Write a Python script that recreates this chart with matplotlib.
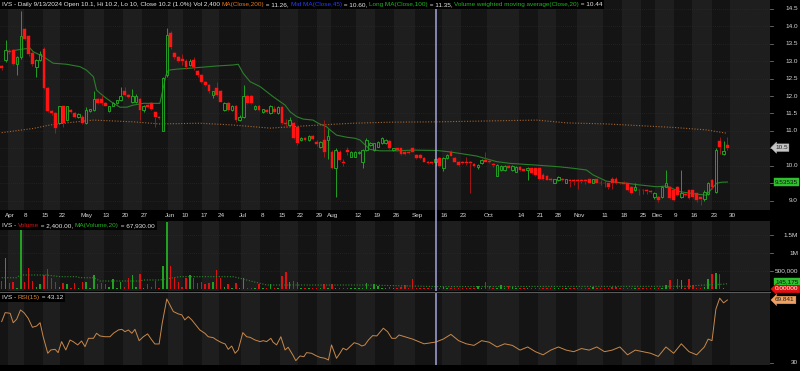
import matplotlib
matplotlib.use('Agg')
import matplotlib.pyplot as plt
import matplotlib.transforms as mtransforms
from matplotlib.patches import Rectangle
from matplotlib.lines import Line2D
from matplotlib.offsetbox import TextArea, HPacker, AnchoredOffsetbox

# ---------------- data (one candle per trading slot, Mar 28 .. Dec 27 2024) ----------------
opens = [12.86,13.03,13.30,13.32,12.92,13.11,13.91,13.72,13.22,12.82,13.03,13.36,12.22,11.58,11.51,11.22,11.70,11.31,11.60,11.51,
         11.41,11.41,11.22,11.58,11.60,11.91,11.91,11.79,11.58,11.72,11.81,11.89,12.13,12.03,11.84,11.84,11.91,11.60,11.75,11.79,
         11.53,11.41,11.01,12.60,13.80,13.22,13.11,13.05,13.01,12.89,13.03,12.73,12.60,12.41,12.32,12.03,12.22,12.13,11.60,11.79,
         11.60,11.72,11.31,11.41,12.00,12.00,11.62,11.72,11.53,11.60,11.51,11.64,11.50,11.69,11.24,11.18,11.22,11.10,10.74,10.80,
         10.74,10.86,10.67,10.55,10.74,10.74,10.41,9.93,10.41,10.12,10.45,10.26,10.26,10.36,10.12,10.45,10.60,10.45,10.55,10.64,
         10.64,10.72,10.45,10.50,10.50,10.41,10.41,10.50,10.31,10.31,10.22,10.12,10.10,10.10,10.22,9.95,10.22,10.41,10.22,10.12,
         10.12,10.12,10.12,10.05,9.98,10.07,10.17,10.15,10.05,9.72,9.88,9.88,10.00,9.88,9.83,9.98,9.90,9.88,9.93,9.93,
         9.93,9.74,9.71,9.62,9.52,9.59,9.62,9.52,9.60,9.59,9.59,9.60,9.60,9.61,9.52,9.61,9.52,9.52,9.50,9.61,
         9.62,9.52,9.52,9.50,9.40,9.30,9.32,9.32,9.31,9.28,9.11,9.11,9.11,9.40,9.40,9.30,9.40,9.11,9.20,9.30,
         9.30,9.21,9.10,9.05,9.20,9.58,9.25,10.72,10.35,10.60]
highs = [12.90,13.61,13.35,13.35,13.15,14.45,13.95,13.75,13.25,13.05,13.30,13.40,12.25,11.60,11.55,11.72,11.72,11.72,11.62,11.55,
         11.52,11.45,11.68,11.64,12.13,11.95,12.03,11.82,11.72,11.84,11.90,12.27,12.27,12.05,12.20,12.05,11.95,11.75,11.78,11.82,
         11.55,11.44,12.55,13.95,13.85,13.25,13.14,13.20,13.05,13.05,13.12,12.75,12.63,12.44,12.34,12.15,12.41,12.16,11.83,11.82,
         11.74,11.74,11.45,12.32,12.03,12.03,11.75,11.74,11.64,11.62,11.74,11.70,11.72,11.72,11.35,11.40,11.25,11.13,10.82,10.83,
         10.88,10.88,10.75,10.72,11.31,11.05,10.45,10.50,10.44,10.20,10.55,10.43,10.43,10.42,10.48,10.80,10.67,10.66,10.71,10.83,
         10.76,10.74,10.52,10.52,10.52,10.43,10.43,10.52,10.33,10.33,10.24,10.14,10.12,10.20,10.24,10.24,10.33,10.45,10.24,10.14,
         10.14,10.26,10.15,10.08,10.04,10.19,10.41,10.17,10.07,10.04,10.02,10.02,10.02,10.02,10.00,10.00,9.92,9.97,9.95,9.95,
         9.95,9.78,9.73,9.64,9.63,9.71,9.64,9.63,9.62,9.61,9.61,9.62,9.62,9.63,9.63,9.63,9.58,9.60,9.52,9.69,
         9.69,9.54,9.56,9.52,9.42,9.50,9.35,9.34,9.33,9.30,9.25,9.13,9.42,9.88,9.42,9.32,9.42,9.88,9.22,9.32,
         9.32,9.23,9.12,9.30,9.55,9.62,10.50,10.82,10.72,10.82]
lows = [12.75,12.98,13.20,12.90,12.60,13.05,13.60,13.15,12.85,12.55,13.00,12.20,11.55,11.45,10.93,11.20,11.12,11.28,11.50,11.38,
        11.38,11.20,11.20,11.55,11.58,11.78,11.75,11.70,11.55,11.70,11.78,11.85,12.00,11.95,11.80,11.80,11.31,11.55,11.65,11.60,
        11.12,11.33,11.00,12.55,13.35,13.05,12.98,12.90,12.78,12.85,12.75,12.55,12.38,12.30,12.10,11.95,12.00,11.82,11.57,11.57,
        11.57,11.25,11.28,11.38,11.78,11.78,11.60,11.57,11.50,11.52,11.48,11.52,11.48,11.20,11.10,11.15,10.77,10.60,10.70,10.70,
        10.72,10.74,10.58,10.52,10.26,10.20,9.90,9.11,10.15,10.00,10.30,10.24,10.24,10.33,9.95,10.43,10.58,10.43,10.53,10.62,
        10.62,10.48,10.43,10.43,10.31,10.31,10.34,10.39,10.20,10.20,10.10,10.05,10.04,10.00,9.98,9.85,10.20,10.27,10.10,10.00,
        10.05,10.02,9.21,9.97,9.90,10.05,10.10,10.08,9.98,9.70,9.86,9.86,9.93,9.86,9.81,9.86,9.84,9.60,9.77,9.72,
        9.60,9.60,9.58,9.56,9.50,9.57,9.56,9.50,9.40,9.45,9.35,9.50,9.48,9.50,9.50,9.50,9.45,9.40,9.35,9.35,
        9.48,9.48,9.47,9.28,9.20,9.28,9.16,9.18,9.20,9.22,9.05,8.95,9.09,9.38,9.05,9.00,9.14,9.08,9.13,9.05,
        9.09,8.95,8.88,9.00,9.15,9.35,9.22,10.35,10.30,10.45]
closes = [12.80,13.32,13.25,12.92,13.11,13.72,13.63,13.20,12.92,13.03,13.20,12.22,11.58,11.50,11.07,11.70,11.22,11.70,11.53,11.41,
          11.49,11.22,11.60,11.62,11.91,11.81,11.79,11.72,11.70,11.81,11.89,12.00,12.03,11.97,12.00,12.00,11.60,11.72,11.68,11.62,
          11.41,11.36,12.51,13.75,13.41,13.11,13.01,13.00,12.82,13.01,12.84,12.60,12.41,12.32,12.13,12.13,12.03,11.84,11.81,11.60,
          11.72,11.31,11.41,12.00,11.81,11.81,11.72,11.60,11.62,11.55,11.72,11.55,11.69,11.22,11.20,11.31,10.80,10.64,10.79,10.74,
          10.86,10.76,10.63,10.69,10.40,10.84,9.93,10.45,10.17,10.09,10.40,10.41,10.41,10.40,10.45,10.74,10.65,10.64,10.69,10.79,
          10.74,10.50,10.50,10.45,10.33,10.33,10.36,10.41,10.22,10.22,10.12,10.07,10.07,10.20,10.00,10.22,10.31,10.29,10.12,10.02,
          10.07,10.07,10.07,10.00,10.02,10.17,10.12,10.10,10.02,10.02,10.00,10.00,9.95,10.00,9.98,9.88,9.86,9.95,9.79,9.74,
          9.62,9.62,9.60,9.58,9.61,9.69,9.58,9.61,9.57,9.56,9.56,9.57,9.56,9.52,9.61,9.52,9.50,9.50,9.40,9.52,
          9.50,9.50,9.49,9.30,9.23,9.40,9.30,9.30,9.29,9.25,9.23,9.02,9.40,9.50,9.07,9.02,9.16,9.23,9.15,9.07,
          9.11,9.02,9.05,9.25,9.50,9.40,10.45,10.55,10.42,10.52]
volumes = [222e3,870e3,158e3,186e3,40e3,1640e3,205e3,575e3,222e3,50e3,130e3,389e3,555e3,296e3,205e3,60e3,158e3,130e3,40e3,158e3,
           40e3,186e3,205e3,40e3,389e3,130e3,158e3,130e3,50e3,278e3,40e3,205e3,60e3,296e3,389e3,50e3,417e3,40e3,130e3,50e3,
           222e3,40e3,639e3,1850e3,648e3,296e3,205e3,50e3,296e3,389e3,296e3,158e3,205e3,130e3,158e3,205e3,528e3,296e3,50e3,130e3,
           40e3,158e3,40e3,296e3,40e3,40e3,40e3,130e3,30e3,30e3,130e3,30e3,40e3,361e3,472e3,205e3,222e3,186e3,30e3,30e3,
           30e3,30e3,30e3,30e3,130e3,30e3,130e3,30e3,30e3,30e3,30e3,30e3,30e3,30e3,30e3,158e3,30e3,130e3,80e3,20e3,
           20e3,60e3,20e3,20e3,60e3,100e3,20e3,278e3,20e3,20e3,20e3,20e3,20e3,2.4e3,20e3,60e3,20e3,20e3,20e3,20e3,
           20e3,40e3,20e3,20e3,70e3,20e3,186e3,70e3,20e3,20e3,110e3,20e3,90e3,60e3,20e3,20e3,20e3,20e3,20e3,20e3,
           20e3,20e3,20e3,20e3,20e3,20e3,20e3,20e3,20e3,20e3,20e3,20e3,20e3,20e3,60e3,30e3,20e3,20e3,20e3,60e3,
           60e3,20e3,20e3,20e3,20e3,20e3,20e3,20e3,20e3,20e3,20e3,20e3,20e3,100e3,250e3,20e3,278e3,250e3,20e3,278e3,
           100e3,20e3,20e3,60e3,270e3,417e3,436e3,417e3,30e3,0]

# indicator lines (slot, value)
vwma_slot = [3,5.2,7.4,8.2,10.8,13.4,16.9,20.4,22.1,23.9,24.7,25.6,27.3,29.1,30.8,32.6,34.3,36.9,39.5,41.2,42.8,43.4,45.6,48.2,51.6,56,60.3,
             61.6,62.9,64.7,67.3,70.7,72.5,73.8,75.1,76.8,78.5,81.1,82.4,84.6,85.5,87.2,89.8,92,93.3,95.9,98.5,102.9,107.2,113.3,116.7,
             120.2,123.7,128.9,132.4,139.3,145.4,148.8,152.3,154,157.5,162.8,166.3,170.6,173.2,176.6,180.9,183.5,186.2,187.5,189]
vwma_val = [13.30,13.34,13.37,13.27,13.13,12.94,12.91,12.84,12.74,12.55,12.17,12.08,11.93,11.79,11.68,11.68,11.74,11.79,11.79,11.79,12.60,12.74,
            12.77,12.79,12.82,12.86,12.89,12.91,12.65,12.41,12.27,11.98,11.84,11.74,11.55,11.41,11.34,11.31,11.22,11.12,11.03,10.88,10.82,
            10.79,10.74,10.47,10.43,10.43,10.45,10.44,10.40,10.34,10.28,10.12,10.07,10.02,9.97,9.93,9.88,9.74,9.56,9.50,9.45,9.40,9.42,
            9.26,9.19,9.16,9.50,9.53,9.535]
ma200_slot = [0,8.2,12.6,16.9,23.9,34.3,41.2,51.6,60.2,69.9,78.5,82.9,91.5,101.1,113.3,139.3,147.1,157.5,174.9,183.5,189]
ma200_val = [10.95,11.07,11.17,11.23,11.31,11.26,11.20,11.22,11.17,11.08,11.14,11.17,11.22,11.25,11.26,11.31,11.23,11.20,11.10,11.03,10.93]
volma_slot = [0,3.9,4.8,11.7,15.2,19.5,20.4,23.9,25.6,36,36.9,41.2,46.4,60.3,62.1,69,95,113,179.3,181.1,187.2,189]
volma_val = [314e3,314e3,389e3,389e3,342e3,342e3,314e3,314e3,222e3,222e3,250e3,250e3,342e3,342e3,296e3,111e3,111e3,67.9e3,75e3,100e3,130e3,145e3]
rsi_slot = [0,0.9,2.2,3,3.9,4.9,5.8,6.9,8,9.1,10,10.8,12,12.8,13.9,14.7,15.6,16.7,17.8,18.6,19.8,20.8,21.7,22.6,23.9,24.7,25.6,26.9,
            28.2,29.1,30.4,31.3,32.1,33,33.9,34.7,35.8,36.9,38,39.1,39.9,41,41.8,43,43.8,44.7,46,46.9,47.7,48.6,49.5,50.8,51.6,52.9,53.8,
            55.1,56,57.3,58.2,59,59.9,60.8,61.6,62.8,63.8,64.7,66,67.3,68.1,69,70.1,70.7,71.6,72.7,73.8,74.6,75.8,76.6,77.7,78.7,79.4,
            80.7,82,82.9,84.2,85.1,85.9,86.4,87.2,88.1,88.9,89.8,90.7,91.8,92.9,93.8,94.6,95.5,96.6,97.7,99.4,100.5,101.6,102.6,103.5,
            107,110,113,115,117,119,121,123,125,127,129,131,133,135,137,139,141,143,145,147,149,151,153,155,157,159,161,163,165,167,
            169,171,173,175,177,179,181,183,184,185,186,187,188,189]
rsi_val = [56.1,61.8,61.4,55.4,57.6,63.5,61.8,58.2,52.5,53.3,55.4,46.5,36.0,38.1,38.5,36.4,43.4,38.1,44.4,43.4,41.3,43.8,40.2,45.5,45.5,
           48.7,47.0,46.5,46.5,48.7,50.8,51.2,49.7,50.8,48.7,51.2,44.0,46.5,48.3,44.4,41.9,41.9,55.0,70.5,66.7,62.5,61.0,60.4,57.2,59.3,
           57.2,53.3,50.8,48.7,46.5,45.9,44.4,42.7,41.9,38.5,40.6,36.0,38.1,49.1,46.5,46.1,44.4,43.4,44.0,43.4,45.5,43.0,41.3,46.5,38.1,
           39.8,35.0,31.3,34.3,33.8,36.4,36.0,34.3,33.4,32.8,31.7,41.3,38.1,32.8,36.0,39.2,38.1,40.2,42.7,41.9,40.6,41.3,44.4,47.2,47.0,
           51.9,49.7,45.5,45.5,47.6,45,42,43.1,45,48,44,42,41,44,43,40,42,41,38,40,37,35,38,40,38,37,39,38,40,37,38,40,35,38,37,
           36,34,40,36,42,37,35,40,45,44,64,71,68,69.84]

# right-axis price labels (9.5 and 10.5 are hidden behind the value tags in the reference)
price_grid = [9.0, 9.5, 10.0, 10.5, 11.0, 11.5, 12.0, 12.5, 13.0, 13.5, 14.0, 14.5]
price_labels = [9.0, 10.0, 11.0, 11.5, 12.0, 12.5, 13.0, 13.5, 14.0, 14.5]
vol_ticks = [500000, 1000000, 1500000]
vol_tick_labels = ['500,000', '1M', '1.5M']
date_labels = ['Apr','8','15','22','May','13','20','27','Jun','10','17','24','Jul','8','15','22','29','Aug','12','19','26',
               'Sep','16','23','Oct','14','21','28','Nov','11','18','25','Dec','9','16','23','30']
date_slots = [2.2,6.3,11.3,15.7,22.0,27.2,32.1,37.1,43.8,47.7,52.7,57.1,62.8,67.8,73.0,77.7,82.6,86.3,92.8,97.7,102.7,
              108.2,115.2,120.1,126.9,135.2,140.2,144.9,150.3,157.1,162.1,167.0,170.7,175.6,180.3,185.5,190.2]
cursor_slot = 113

# ---------------- styling ----------------
FONT = ['Liberation Sans', 'DejaVu Sans']
FS = 4.55
BG_D, BG_L = '#141414', '#1e1e1e'
UP, DN, DN_WICK = '#22a022', '#ff1414', '#a01818'
TXT = '#d8d8d8'
plt.rcParams['font.family'] = FONT

Wpx, Hpx = 800, 371
fig = plt.figure(figsize=(8, 3.71), dpi=100, facecolor='black')

def fax(top, bottom, right=770):
    a = fig.add_axes([0, 1 - bottom / Hpx, right / Wpx, (bottom - top) / Hpx])
    a.set_facecolor(BG_D)
    for s in a.spines.values():
        s.set_visible(False)
    a.set_xticks([]); a.set_yticks([])
    a.set_xlim(-0.44, 200.1)
    return a

ax = fax(0, 210)
axv = fax(221, 291)
axr = fax(293, 365)
ax.set_ylim(8.734, 14.751)
axv.set_ylim(-55556, 1888900)
axr.set_ylim(28.54, 74.28)

# weekly stripes
bounds = [-0.44] + [s - 0.5 for s in date_slots] + [200.1]
for a in (ax, axv, axr):
    for j in range(len(bounds) - 1):
        a.axvspan(bounds[j], bounds[j + 1], color=(BG_L if j % 2 else BG_D), lw=0, zorder=0)

for p in price_grid:
    ax.axhline(p, color='#2e2e2e', lw=0.5, ls=(0, (1, 2)), zorder=0.5)
for v in vol_ticks:
    axv.axhline(v, color='#2e2e2e', lw=0.5, ls=(0, (1, 2)), zorder=0.5)

# candles
n = len(closes)
for i in range(n):
    o, h, l, c = opens[i], highs[i], lows[i], closes[i]
    up = c >= o
    lo_b, hi_b = min(o, c), max(o, c)
    wc = UP if up else DN_WICK
    ax.plot([i, i], [l, lo_b], color=wc, lw=0.7, zorder=3, solid_capstyle='butt')
    ax.plot([i, i], [hi_b, h], color=wc, lw=0.7, zorder=3, solid_capstyle='butt')
    hgt = max(hi_b - lo_b, 0.012)
    if up:
        ax.add_patch(Rectangle((i - 0.33, lo_b), 0.66, hgt, facecolor='none', edgecolor=UP, lw=0.7, zorder=4))
    else:
        ax.add_patch(Rectangle((i - 0.36, lo_b), 0.72, hgt, facecolor=DN, edgecolor=DN, lw=0.3, zorder=4))

ax.plot(vwma_slot, vwma_val, color='#2a7f2a', lw=0.8, zorder=2)
ax.plot(ma200_slot, ma200_val, color='#a8662e', lw=0.8, ls=(0, (1, 1.5)), zorder=2)

# volume
for i in range(n):
    col = UP if closes[i] >= opens[i] else '#dd1111'
    axv.bar(i, volumes[i], width=0.38, color=col, lw=0, zorder=3)
axv.plot(volma_slot, volma_val, color='#2a8a2a', lw=0.8, ls=(0, (1, 1.5)), zorder=4)

# rsi
axr.plot(rsi_slot, rsi_val, color='#c8884a', lw=0.7, zorder=3)

# cursor
ax.axvline(cursor_slot, ymin=-11 / 210, ymax=1, color='#a4a4dc', lw=1.1, zorder=6, clip_on=False)
axv.axvline(cursor_slot, color='#a4a4dc', lw=1.1, zorder=6)
axr.axvline(cursor_slot, color='#a4a4dc', lw=1.1, zorder=6)

# separator between volume and RSI
fig.add_artist(Line2D([0, 770 / Wpx], [1 - 292 / Hpx] * 2, color='#5a5a5a', lw=0.8))

# date labels
tr = mtransforms.blended_transform_factory(ax.transData, ax.transAxes)
for lab, s in zip(date_labels, date_slots):
    ax.text(s, -5.5 / 210, lab, transform=tr, ha='center', va='center', color=TXT, fontsize=FS, clip_on=False)

# right axis labels
def blend(a):
    return mtransforms.blended_transform_factory(a.transAxes, a.transData)

def rlabels(a, vals, labs, ticks=None):
    t = blend(a)
    for v in (ticks if ticks is not None else vals):
        a.plot([1.0, 1.004], [v, v], transform=t, color='#888888', lw=0.5, clip_on=False)
    for v, s in zip(vals, labs):
        a.text(798 / 770, v, s, transform=t, ha='right', va='center', color=TXT, fontsize=FS, clip_on=False)
    return t

t1 = rlabels(ax, price_labels, [f'{p:.1f}' for p in price_labels], ticks=price_grid)
t2 = rlabels(axv, vol_ticks, vol_tick_labels)
t3 = rlabels(axr, [30], ['30'])

def tag(a, t, y, s, fc, tc, arrow=True):
    a.text(775 / 770, y, s, transform=t, ha='left', va='center', color=tc, fontsize=FS, clip_on=False,
           bbox=dict(boxstyle=('larrow,pad=0.2' if arrow else 'square,pad=0.2'), fc=fc, ec=fc, lw=0.3), zorder=10)

tag(ax, t1, closes[-1], '10.5', '#c4c4c4', '#202020')
tag(ax, t1, vwma_val[-1], '9.53535', '#2fbf2f', '#101010', arrow=False)
tag(axv, t2, volma_val[-1] + 60000, '145,175', '#2fbf2f', '#101010', arrow=False)
tag(axv, t2, volumes[-1], '0.00000', '#e01010', '#ffffff')
tag(axr, t3, rsi_val[-1], '69.841', '#f0a060', '#202020')

# pane titles
def title(a, parts):
    boxes = [TextArea(s, textprops=dict(color=c, fontsize=FS, family=FONT)) for s, c in parts]
    hp = HPacker(children=boxes, align='baseline', pad=0, sep=0)
    ab = AnchoredOffsetbox(loc='upper left', child=hp, pad=0.15, borderpad=0, frameon=True,
                           bbox_to_anchor=(0, 1), bbox_transform=a.transAxes)
    ab.patch.set_facecolor('black'); ab.patch.set_edgecolor('none')
    ab.set_zorder(20)
    a.add_artist(ab)

W_ = '#e8e8e8'
title(ax, [('IVS - Daily 9/13/2024 Open 10.1, Hi 10.2, Lo 10, Close 10.2 (1.0%) Vol 2,400 ', W_),
           ('MA(Close,200)', '#e07a20'), (' = 11.26, ', W_),
           ('Mid MA(Close,45)', '#2a3cff'), (' = 10.60, ', W_),
           ('Long MA(Close,100)', '#22b422'), (' = 11.35, ', W_),
           ('Volume weighted moving average(Close,20)', '#22b422'), (' = 10.44', W_)])
title(axv, [('IVS - ', W_), ('Volume', '#e01010'), (' = 2,400.00, ', W_), ('MA(Volume,20)', '#22b422'), (' = 67,930.00', W_)])
title(axr, [('IVS - ', W_), ('RSI(15)', '#e08a30'), (' = 43.12', W_)])

fig.savefig('out.png', dpi=100, facecolor='black')
